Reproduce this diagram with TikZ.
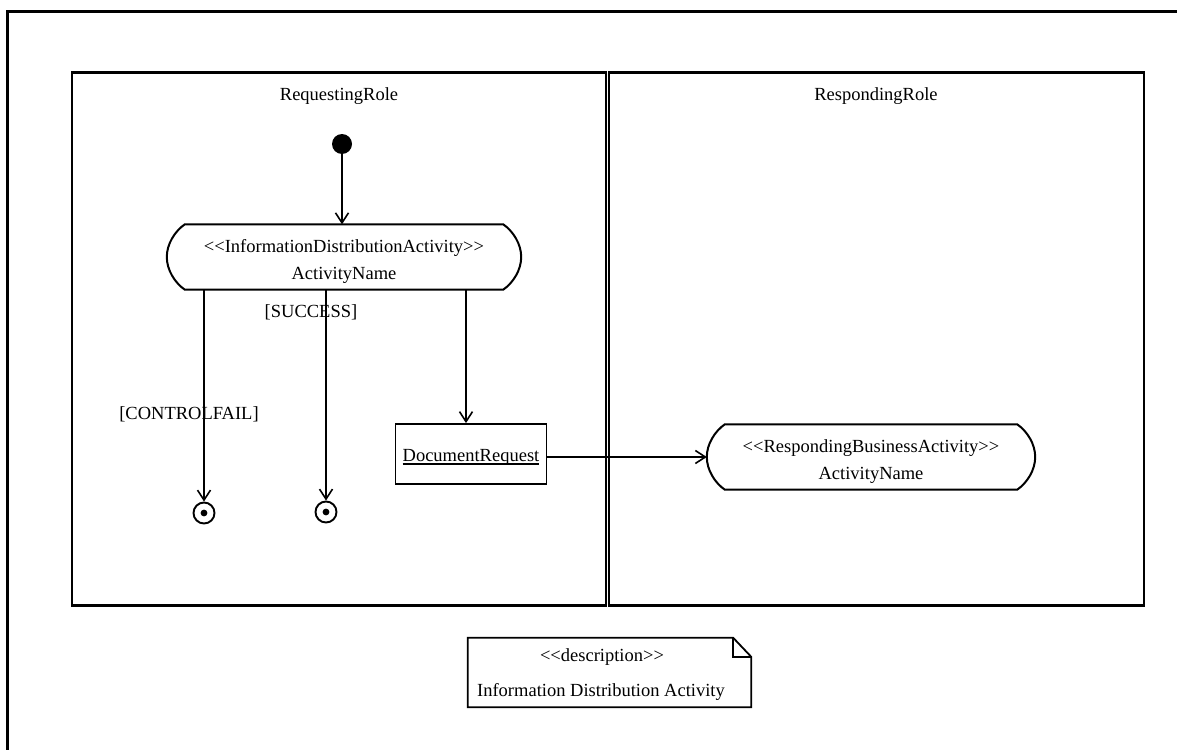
\documentclass[tikz,border=0pt]{standalone}
\usepackage{fontspec}
\setmainfont{Liberation Serif}
\usetikzlibrary{arrows.meta,calc}

% thick underline for object names
\newcommand\objname[1]{\setbox0\hbox{#1}\leavevmode\rlap{\rule[-3.2pt]{\wd0}{1.8pt}}\box0}
% extra head room that lowers the text inside a box
\newcommand\headroom[1]{\rule{0pt}{#1}}

\begin{document}
\begin{tikzpicture}[x=1pt,y=-1pt,
  frame/.style={line width=3pt},
  lane/.style={draw,line width=2.2pt},
  txt/.style={font=\fontsize{18.5}{27}\selectfont, inner sep=0pt, align=center},
  actbox/.style={txt, minimum width=#1, minimum height=65},
  actline/.style={line width=2pt, line join=round},
  flow/.style={line width=2pt,-{Straight Barb[length=10pt,width=13pt,line width=1.6pt]}},
  initnode/.style={circle, fill=black, minimum size=20, inner sep=0pt},
  finalnode/.style={circle, draw, line width=1.9pt, minimum size=21, inner sep=0pt},
  objbox/.style={txt, draw, line width=1.8pt, minimum width=151, minimum height=60},
  notebox/.style={minimum width=283, minimum height=69, inner sep=0pt}
]
\useasboundingbox (0,0) rectangle (1177,749);

% outer diagram frame
\draw[frame] (7.5,770) -- (7.5,11.5) -- (1200,11.5);

% swimlanes
\draw[lane] (72,72.5) rectangle (606,605.5);
\draw[lane] (608.7,72.5) rectangle (1144,605.5);
\node[txt] (reqrole) at (339,96.5) {RequestingRole};
\node[txt] (resprole) at (876,96.5) {RespondingRole};

% start state
\node[initnode] (init) at (342,144) {};

% activity states
\node[actbox=354] (act1) at (344,257) {\headroom{21pt}<{}<InformationDistributionActivity>{}>\\ActivityName};
\node[actbox=328] (act2) at (871,457) {\headroom{21pt}<{}<RespondingBusinessActivity>{}>\\ActivityName};
\foreach \a in {act1,act2}{
  \draw[actline]
    ($(\a.north west)+(18,0)$) -- ($(\a.north east)+(-18,0)$)
    .. controls +(10,7) and +(0,-13) .. (\a.east)
    .. controls +(0,13) and +(10,-7) .. ($(\a.south east)+(-18,0)$)
    -- ($(\a.south west)+(18,0)$)
    .. controls +(-10,-7) and +(0,13) .. (\a.west)
    .. controls +(0,-13) and +(-10,7) .. cycle;
}

% final states
\node[finalnode] (fin1) at (204,513) {};
\node[finalnode] (fin2) at (326,512) {};
\fill (fin1) circle (3.4);
\fill (fin2) circle (3.4);

% object flow
\node[objbox] (docreq) at (471,454) {\headroom{19pt}\objname{DocumentRequest}};
\coordinate (dtop) at ($(docreq.north)+(-5,0)$);

% transitions
\draw[flow] (init.south) -- (init.south |- act1.north);
\draw[flow] (act1.south -| fin1) -- (fin1.north);
\draw[flow] (act1.south -| fin2) -- (fin2.north);
\draw[flow] (act1.south -| dtop) -- (dtop);
\draw[flow] (docreq.east |- act2.west) -- (act2.west);

% guards
\node[txt] (gsucc) at (311,312) {[SUCCESS]};
\node[txt] (gfail) at (189,414) {[CONTROLFAIL]};

% description note
\node[notebox] (note) at (609.5,672.5) {};
\draw[line width=1.8pt, line join=miter]
  (note.north west) -- ($(note.north east)+(-18,0)$) -- ($(note.north east)+(0,19)$)
  -- (note.south east) -- (note.south west) -- cycle;
\draw[line width=1.8pt]
  ($(note.north east)+(-18,0)$) -- ($(note.north east)+(-18,19)$) -- ($(note.north east)+(0,19)$);
\node[txt] (notehead) at (602,657) {<{}<description>{}>};
\node[txt] (notebody) at (601,692) {Information Distribution Activity};
\end{tikzpicture}
\end{document}
